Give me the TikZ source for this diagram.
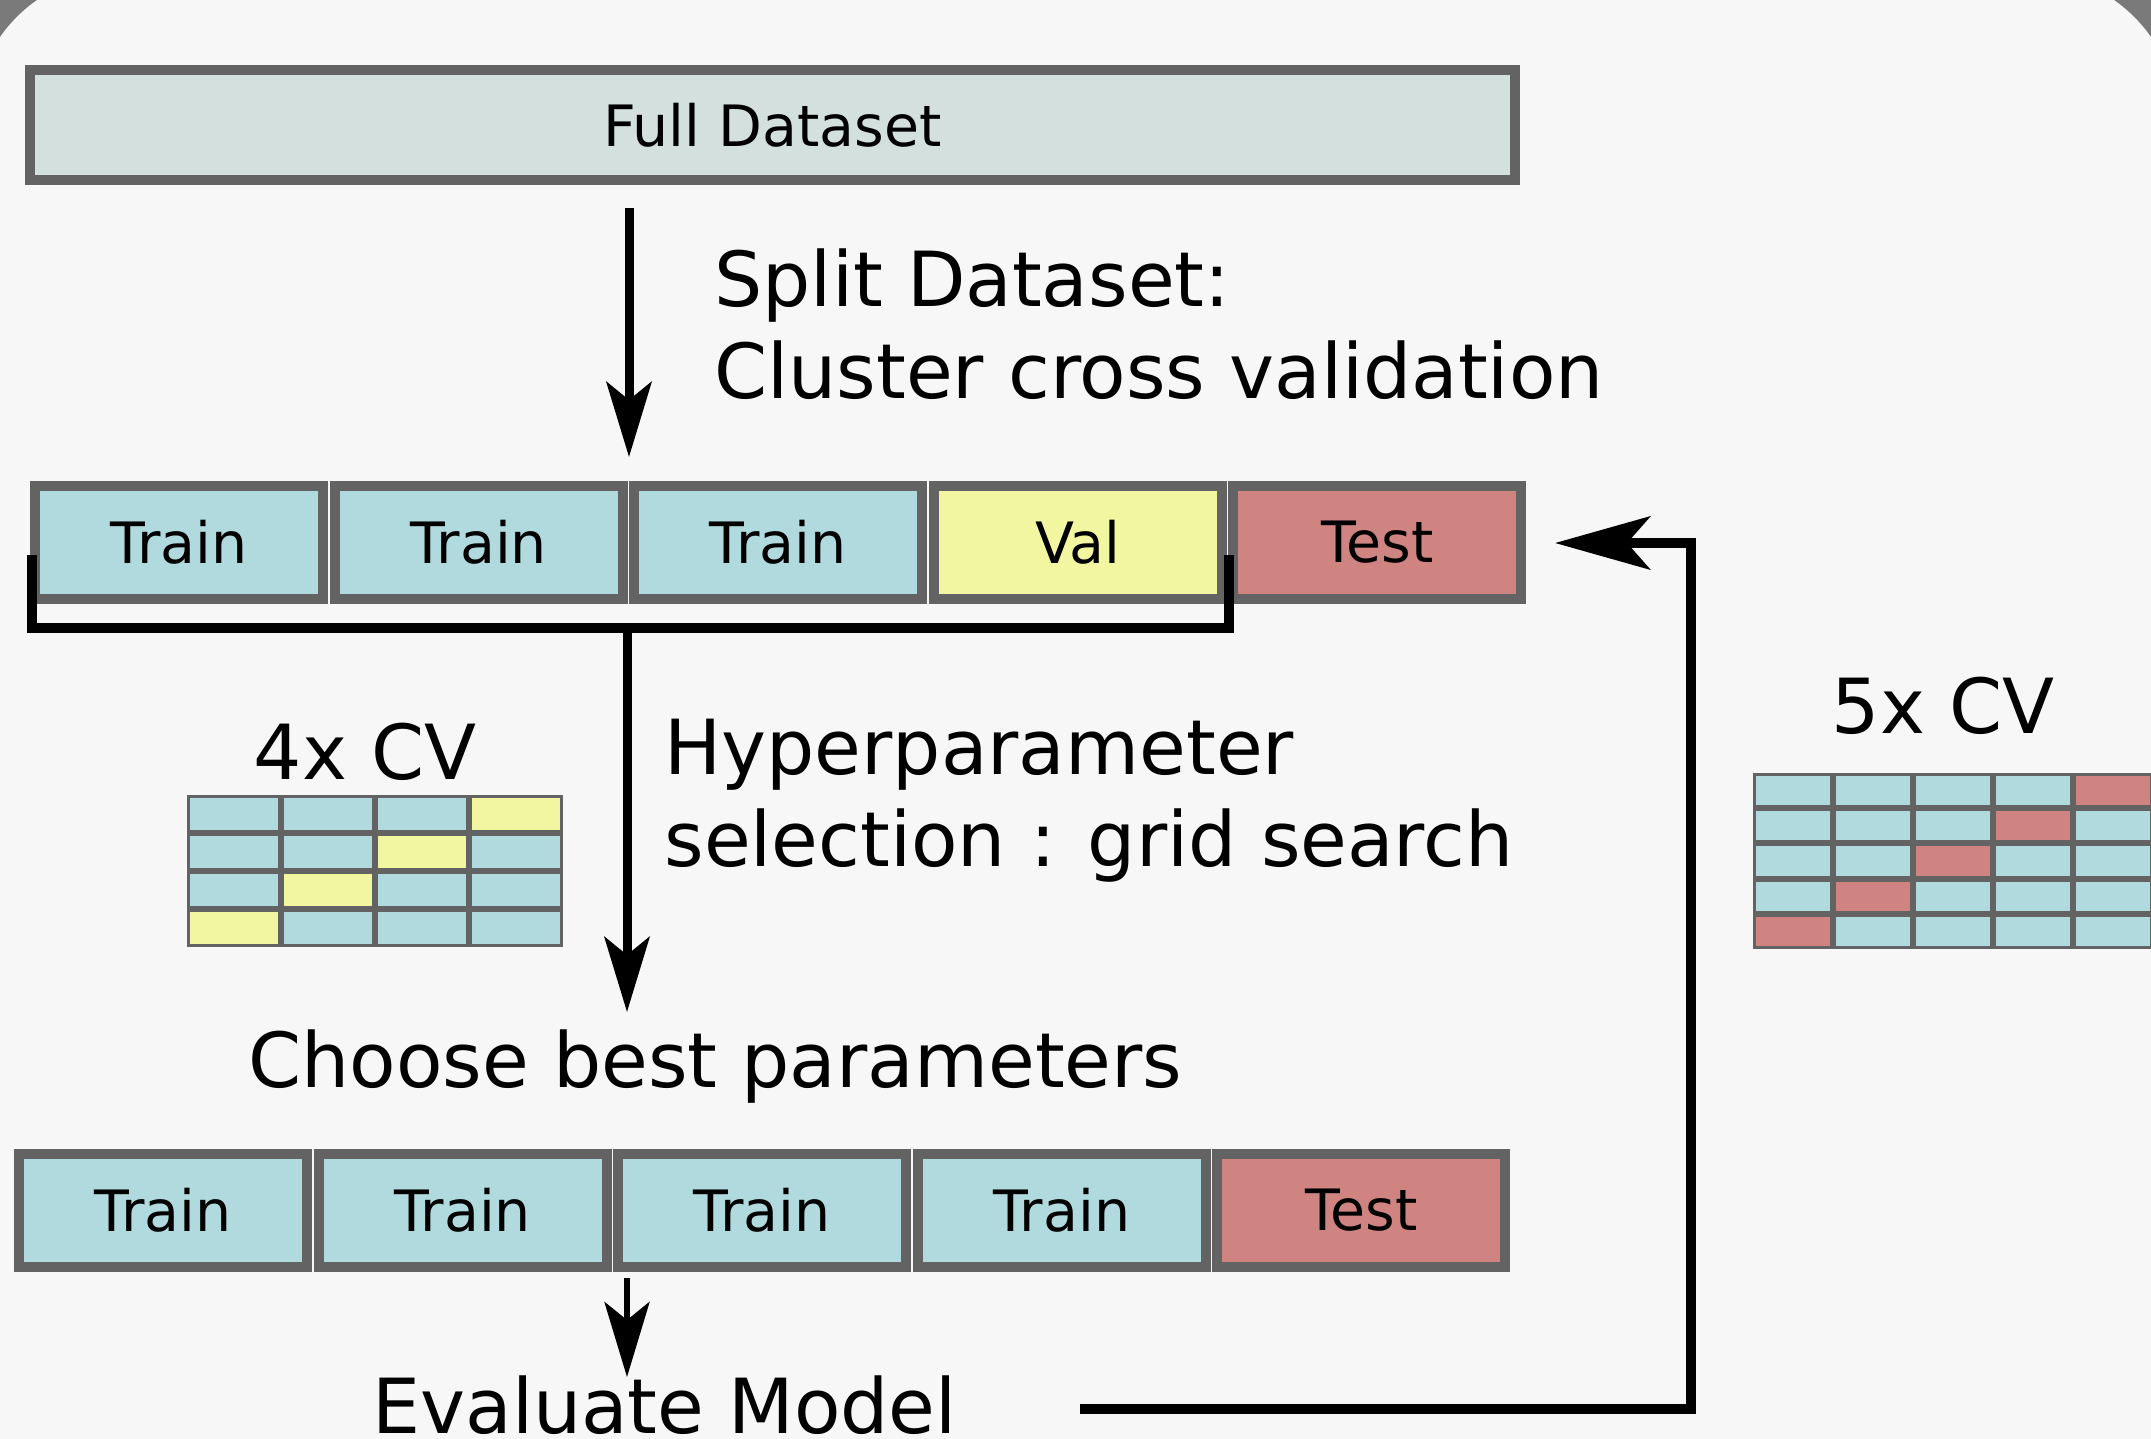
\documentclass[tikz,border=0pt]{standalone}
\usepackage{fontspec}
\setmainfont{DejaVu Sans}
\usetikzlibrary{arrows.meta}
\definecolor{bgfill}{HTML}{F7F7F7}
\definecolor{cornergray}{HTML}{7A7A7A}
\definecolor{boxline}{HTML}{636363}
\definecolor{fullfill}{HTML}{D3E0DE}
\definecolor{trainfill}{HTML}{B0DADE}
\definecolor{valfill}{HTML}{F3F6A0}
\definecolor{testfill}{HTML}{CF8482}
\newcommand{\blkfont}{\fontsize{28.5}{34}\selectfont}
\newcommand{\lblfont}{\fontsize{38}{46}\selectfont}

\begin{document}
\begin{tikzpicture}[x=0.5pt, y=-0.5pt,
  blk/.style={draw=boxline, line width=5pt, inner sep=0pt, minimum width=144pt, minimum height=56.5pt, font=\blkfont},
  trainbox/.style={blk, fill=trainfill},
  valbox/.style={blk, fill=valfill},
  testbox/.style={blk, fill=testfill},
  lbl/.style={font=\lblfont, inner sep=0pt, align=left, anchor=base west},
  cvlbl/.style={font=\lblfont, inner sep=0pt, anchor=base},
  cell/.style={draw=boxline, line width=1.5pt},
  flow/.style={line width=4.5pt, -{Stealth[length=37.5pt, width=22.5pt, inset=9pt]}},
  back/.style={line width=5pt, -{Stealth[length=47.5pt, width=26.5pt, inset=11.5pt]}},
]

% frame
\useasboundingbox (0,0) rectangle (2151,1439);
\clip (0,0) rectangle (2151,1439);
\fill[cornergray] (0,0) rectangle (2151,1439);
\fill[bgfill, rounded corners=75pt] (-27,-27) rectangle (2178,1600);

% full dataset
\node[blk, fill=fullfill, minimum width=742.5pt, minimum height=55pt] (full) at (772.5,125) {Full Dataset};

\coordinate (splitTop) at (629,208);
\coordinate (splitTip) at (629,457);
\draw[flow] (splitTop) -- (splitTip);
\node[lbl] (split) at (714,398) {Split Dataset:\\Cluster cross validation};

% first split
\foreach \sty/\lab [count=\i from 0] in {trainbox/Train,trainbox/Train,trainbox/Train,valbox/Val,testbox/Test}
  \node[\sty] (top\i) at ({179+299.6*\i},542.5) {\lab};

\coordinate (brL) at (32,555);
\coordinate (brR) at (1229,555);
\coordinate (brM) at (627,628);
\draw[line width=5pt] (brL) |- (brM) -| (brR);

\coordinate (hypTip) at (627,1012);
\draw[flow] (brM) -- (hypTip);
\node[lbl] (hyper) at (664,866) {Hyperparameter\\selection : grid search};
\node[lbl] (choose) at (248,1087) {Choose best parameters};

% 4x CV
\node[cvlbl] (cv4) at (365,779) {4x CV};
\foreach \r in {0,...,3}
  \foreach \c in {0,...,3} {
    \ifnum\numexpr\r+\c\relax=3 \def\cellcol{valfill}\else\def\cellcol{trainfill}\fi
    \draw[cell, fill=\cellcol] ({188.5+94*\c},{796.5+38*\r}) rectangle ({185.5+94*(\c+1)},{793.5+38*(\r+1)});
  }

% 5x CV
\node[cvlbl] (cv5) at (1943,733) {5x CV};
\foreach \r in {0,...,4}
  \foreach \c in {0,...,4} {
    \ifnum\numexpr\r+\c\relax=4 \def\cellcol{testfill}\else\def\cellcol{trainfill}\fi
    \draw[cell, fill=\cellcol] ({1754.5+80*\c},{774.5+35.2*\r}) rectangle ({1751.5+80*(\c+1)},{771.5+35.2*(\r+1)});
  }

% final split
\foreach \sty/\lab [count=\i from 0] in {trainbox/Train,trainbox/Train,trainbox/Train,trainbox/Train,testbox/Test}
  \node[\sty] (bot\i) at ({163+299.6*\i},1210.5) {\lab};

\coordinate (evalTop) at (627,1278);
\coordinate (evalTip) at (627,1377);
\draw[flow, line width=3pt] (evalTop) -- (evalTip);
\node[lbl] (eval) at (372,1433) {Evaluate Model};

% loop back
\coordinate (backStart) at (1080,1409);
\coordinate (backCorner) at (1691,543);
\coordinate (backTip) at (1555,543);
\draw[back] (backStart) -| (backCorner) -- (backTip);

\end{tikzpicture}
\end{document}
